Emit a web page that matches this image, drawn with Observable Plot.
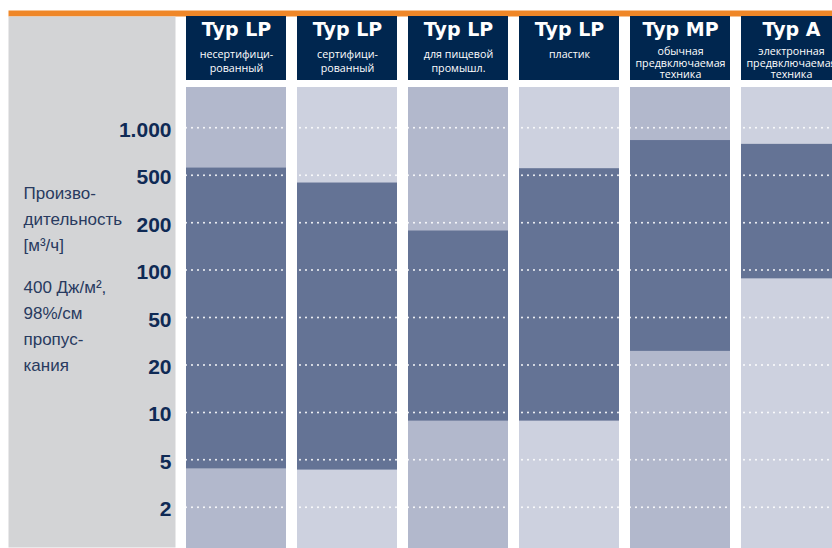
<!DOCTYPE html>
<html>
<head>
<meta charset="utf-8">
<script src="https://cdn.jsdelivr.net/npm/d3@7"></script>
<script src="https://cdn.jsdelivr.net/npm/@observablehq/plot@0.6"></script>
<style>
  html, body { margin: 0; padding: 0; background: #fff; }
  #chart { width: 832px; height: 548px; }
</style>
</head>
<body>
<div id="chart"></div>
<script>
// ---- data ----
const categories = ["LP-uncert", "LP-cert", "LP-food", "LP-plastic", "MP", "A"];
const titles = ["Typ LP", "Typ LP", "Typ LP", "Typ LP", "Typ MP", "Typ A"];
const subtitles = [
  "несертифици-\nрованный",
  "сертифици-\nрованный",
  "для пищевой\nпромышл.",
  "пластик",
  "обычная\nпредвключаемая\nтехника",
  "электронная\nпредвключаемая\nтехника"
];
const flowMin = [4.2, 4.1, 8.8, 8.8, 26, 88];
const flowMax = [555, 430, 177, 550, 830, 785];
const yTicks = [2, 5, 10, 20, 50, 100, 200, 500, 1000];
const yTickLabels = ["2", "5", "10", "20", "50", "100", "200", "500", "1.000"];
const labelBlock1 = "Произво-\nдительность\n[м³/ч]";
const labelBlock2 = "400 Дж/м²,\n98%/см\nпропус-\nкания";

// ---- styling ----
const orange = "#ef8728";
const panel = "#d3d4d6";
const navy = "#00264f";
const dark = "#647395";
const lightA = "#b2b8cc";
const lightB = "#cdd1df";
const textNavy = "#0f2a55";
const labelColor = "#283a5f";

const rows = categories.map((key, i) => ({
  key, title: titles[i], sub: subtitles[i], lo: flowMin[i], hi: flowMax[i],
  bg: i % 2 ? lightB : lightA,
  lines: subtitles[i].split("\n").length
}));
const tickRows = yTicks.map((v, i) => ({ v, label: yTickLabels[i] }));

// equally spaced tick positions (log-piecewise)
const top1000 = 127.3, step = 47.43;
const yRange = yTicks.map((d, i) => top1000 + (yTicks.length - 1 - i) * step);

const chart = Plot.plot({
  width: 832,
  height: 548,
  marginTop: 87,
  marginBottom: 0,
  marginLeft: 186,
  marginRight: 0,
  style: { fontFamily: "'Liberation Sans', Arial, sans-serif", background: "white", overflow: "visible" },
  x: { type: "band", domain: categories, range: [186, 845], paddingInner: 0.095, paddingOuter: 0, align: 0, axis: null },
  y: { type: "log", domain: yTicks, range: yRange, axis: null },
  color: { type: "identity" },
  marks: [
    // orange top strip
    Plot.frame({ fill: orange, stroke: null, insetLeft: -178, insetTop: -77, insetBottom: 532 }),
    // left gray panel
    Plot.frame({ fill: panel, stroke: null, insetLeft: -178, insetRight: 657, insetTop: -71, insetBottom: 1 }),
    // header boxes
    Plot.cell(rows, { x: "key", fill: navy, inset: 0, insetTop: -71, insetBottom: 468 }),
    // column backgrounds
    Plot.cell(rows, { x: "key", fill: "bg", inset: 0 }),
    // range bars
    Plot.barY(rows, { x: "key", y1: "lo", y2: "hi", fill: dark, inset: 0 }),
    // dotted gridlines
    Plot.ruleY(yTicks, { stroke: "white", strokeWidth: 2, strokeDasharray: "0,6", strokeLinecap: "round", strokeOpacity: 0.95 }),
    // y tick labels
    Plot.text(tickRows, {
      y: "v", text: "label", frameAnchor: "left", textAnchor: "end", lineAnchor: "middle",
      dx: -15, dy: 2.3, fontSize: 21, fontWeight: "bold", fill: textNavy
    }),
    // header titles
    Plot.text(rows, {
      x: "key", text: "title", frameAnchor: "top", lineAnchor: "bottom", dy: -51.5,
      fill: "white", fontSize: 19, fontWeight: "bold", fontFamily: "'DejaVu Sans', Verdana, sans-serif"
    }),
    // header subtitles (1-2 lines)
    Plot.text(rows.filter(d => d.lines < 3), {
      x: "key", text: "sub", frameAnchor: "top", lineAnchor: "top", lineHeight: 1.33, dy: -39.4,
      fill: "white", fontSize: 10.7, fontFamily: "'Open Sans', sans-serif"
    }),
    // header subtitles (3 lines)
    Plot.text(rows.filter(d => d.lines >= 3), {
      x: "key", text: "sub", frameAnchor: "top", lineAnchor: "top", lineHeight: 1.05, dy: -40,
      fill: "white", fontSize: 10.7, fontFamily: "'Open Sans', sans-serif"
    }),
    // axis description
    Plot.text([labelBlock1], {
      text: d => d, frameAnchor: "top-left", textAnchor: "start", lineAnchor: "top",
      lineHeight: 26 / 17, fontSize: 17, dx: -163, dy: 93.5, fill: labelColor
    }),
    Plot.text([labelBlock2], {
      text: d => d, frameAnchor: "top-left", textAnchor: "start", lineAnchor: "top",
      lineHeight: 26 / 17, fontSize: 17, dx: -163, dy: 187.5, fill: labelColor
    })
  ]
});

document.getElementById("chart").appendChild(chart);
</script>
</body>
</html>
